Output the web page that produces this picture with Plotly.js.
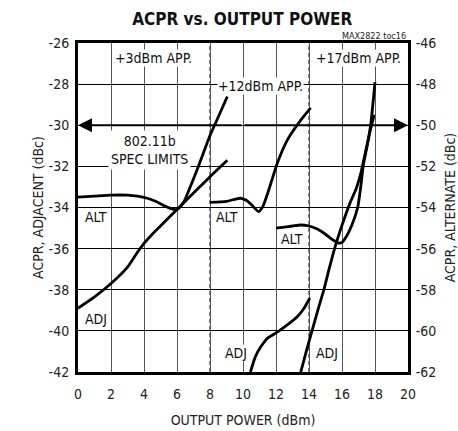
<!DOCTYPE html>
<html>
<head>
<meta charset="utf-8">
<script src="https://cdn.plot.ly/plotly-3.0.1.min.js"></script>
<style>
html,body{margin:0;padding:0;background:#fff;}
#chart{width:458px;height:431px;}
</style>
</head>
<body>
<div id="chart"></div>
<script>
// +3dBm approach
const adj3X = [0, 1, 2, 3, 3.5, 4, 4.5, 5, 6, 7, 8, 9.05];
const adj3Y = [-38.9, -38.35, -37.7, -36.9, -36.3, -35.75, -35.3, -34.9, -34.1, -33.3, -32.5, -31.7];
const alt3X = [0, 1, 2, 3, 3.6, 4.2, 4.7, 5.2, 5.6, 6, 6.4, 6.8, 7.2, 7.6, 8, 8.5, 9.05];
const alt3Y = [-53.5, -53.45, -53.4, -53.4, -53.45, -53.55, -53.7, -53.9, -54.05, -54.1, -53.75, -53.0, -52.2, -51.35, -50.5, -49.6, -48.6];
// +12dBm approach
const adj12X = [10.45, 10.75, 11.06, 11.5, 12.1, 12.7, 13.3, 13.7, 14.05];
const adj12Y = [-42, -41.25, -40.8, -40.35, -40.05, -39.7, -39.3, -38.9, -38.4];
const alt12X = [8, 9, 9.5, 9.85, 10.2, 10.5, 10.94, 11.2, 11.5, 12.1, 12.7, 13.5, 14.1];
const alt12Y = [-53.75, -53.7, -53.6, -53.55, -53.65, -53.85, -54.2, -53.95, -53.3, -51.8, -50.7, -49.75, -49.15];
// +17dBm approach
const adj17X = [13.5, 13.85, 14.2, 14.55, 14.9, 15.2, 15.55, 15.9, 16.2, 16.5, 16.85, 17.15, 17.45, 17.7, 17.95];
const adj17Y = [-42, -40.95, -39.95, -38.95, -38.0, -37.05, -36.0, -35.1, -34.4, -33.75, -33.1, -32.3, -31.2, -30.3, -29.5];
const alt17X = [12, 12.5, 13, 13.5, 14, 14.5, 15, 15.4, 15.75, 16, 16.2, 16.6, 16.95, 17.15, 17.3, 17.55, 17.75, 18];
const alt17Y = [-55.0, -54.95, -54.9, -54.85, -54.9, -55.05, -55.3, -55.55, -55.72, -55.7, -55.5, -54.85, -54.0, -52.9, -51.9, -50.9, -49.9, -47.9];

// axes / reference values
const xTicks = [0, 2, 4, 6, 8, 10, 12, 14, 16, 18, 20];
const leftTicks = [-42, -40, -38, -36, -34, -32, -30, -28, -26];
const rightTicks = [-62, -60, -58, -56, -54, -52, -50, -48, -46];
const approachLines = [8, 14];
const specLimit = -30;
const approachLabels = ['+3dBm APP.', '+12dBm APP.', '+17dBm APP.'];

const FONT = '"Liberation Sans Narrow", "Arial Narrow", "DejaVu Sans Condensed", sans-serif';
const lineStyle = {color: '#000', width: 2.8, shape: 'spline', smoothing: 0.6};

function tr(x, y, axis) {
  return {x: x, y: y, yaxis: axis, type: 'scatter', mode: 'lines', line: lineStyle, hoverinfo: 'skip', showlegend: false};
}

const data = [
  tr(adj3X, adj3Y, 'y'),
  tr(alt3X, alt3Y, 'y2'),
  tr(adj12X, adj12Y, 'y'),
  tr(alt12X, alt12Y, 'y2'),
  tr(adj17X, adj17Y, 'y'),
  tr(alt17X, alt17Y, 'y2')
];

const shapes = [];
approachLines.forEach(v => {
  shapes.push({type: 'line', xref: 'x', yref: 'paper', x0: v, x1: v, y0: 0, y1: 1, layer: 'below', line: {color: '#fff', width: 3}});
  shapes.push({type: 'line', xref: 'x', yref: 'paper', x0: v, x1: v, y0: 0, y1: 1, layer: 'below', line: {color: '#000', width: 1, dash: '4px,3px'}});
});

function lbl(text, x, y, yref, extra) {
  return Object.assign({text: text, x: x, y: y, xref: 'x', yref: yref || 'y', showarrow: false,
    font: {family: FONT, size: 14, color: '#111'}, bgcolor: '#fff', borderpad: 0}, extra || {});
}

const annotations = [
  // spec limit arrows
  {x: 0, y: specLimit, ax: 10, ay: specLimit, xref: 'x', yref: 'y', axref: 'x', ayref: 'y', text: '', showarrow: true,
   arrowhead: 2, arrowsize: 1.4, arrowwidth: 2, arrowcolor: '#000', standoff: 0},
  {x: 20, y: specLimit, ax: 10, ay: specLimit, xref: 'x', yref: 'y', axref: 'x', ayref: 'y', text: '', showarrow: true,
   arrowhead: 2, arrowsize: 1.4, arrowwidth: 2, arrowcolor: '#000', standoff: 0},
  lbl('802.11b<br>SPEC LIMITS', 4.35, -31.2, 'y', {borderpad: 2}),
  lbl(approachLabels[0], 4.6, -26.75),
  lbl(approachLabels[1], 11.05, -28.1),
  lbl(approachLabels[2], 17.0, -26.75),
  lbl('ALT', 1.1, -34.45),
  lbl('ALT', 9.0, -34.45),
  lbl('ALT', 12.95, -35.55),
  lbl('ADJ', 1.1, -39.4),
  lbl('ADJ', 9.6, -41.1),
  lbl('ADJ', 15.1, -41.1),
  {text: 'MAX2822 toc16', xref: 'paper', yref: 'paper', x: 1, y: 1.0, xanchor: 'right', yanchor: 'bottom', yshift: 0,
   showarrow: false, font: {family: FONT, size: 9, color: '#222'}}
];

const axisCommon = {
  showline: true, linecolor: '#000', linewidth: 3, ticks: '', zeroline: false,
  tickfont: {family: FONT, size: 14, color: '#222'}, fixedrange: true
};

const layout = {
  width: 458, height: 431,
  margin: {l: 78, r: 50, t: 43, b: 59},
  paper_bgcolor: '#fff', plot_bgcolor: '#fff',
  font: {family: FONT, color: '#222'},
  title: {text: '<b>ACPR vs. OUTPUT POWER</b>', font: {family: FONT, size: 17, color: '#111'},
    x: 0.529, xanchor: 'center', xref: 'container', y: 0.956, yanchor: 'middle', yref: 'container'},
  xaxis: Object.assign({}, axisCommon, {
    range: [0, 20], tickvals: xTicks, ticktext: xTicks.map(String), mirror: true,
    showgrid: true, gridcolor: '#555', gridwidth: 1, ticklabelstandoff: 7,
    title: {text: 'OUTPUT POWER (dBm)', font: {family: FONT, size: 14, color: '#222'}, standoff: 15}
  }),
  yaxis: Object.assign({}, axisCommon, {
    range: [-42, -26], tickvals: leftTicks, ticktext: leftTicks.map(String), showgrid: true, gridcolor: '#000', gridwidth: 1,
    ticklabelstandoff: 3,
    title: {text: 'ACPR, ADJACENT (dBc)', font: {family: FONT, size: 14, color: '#222'}, standoff: 2}
  }),
  yaxis2: Object.assign({}, axisCommon, {
    range: [-62, -46], tickvals: rightTicks, ticktext: rightTicks.map(String), overlaying: 'y', side: 'right', showgrid: false,
    ticklabelstandoff: 2,
    title: {text: 'ACPR, ALTERNATE (dBc)', font: {family: FONT, size: 14, color: '#222'}, standoff: 10}
  }),
  shapes: shapes,
  annotations: annotations,
  showlegend: false
};

Plotly.newPlot('chart', data, layout, {staticPlot: true, displayModeBar: false});
</script>
</body>
</html>
